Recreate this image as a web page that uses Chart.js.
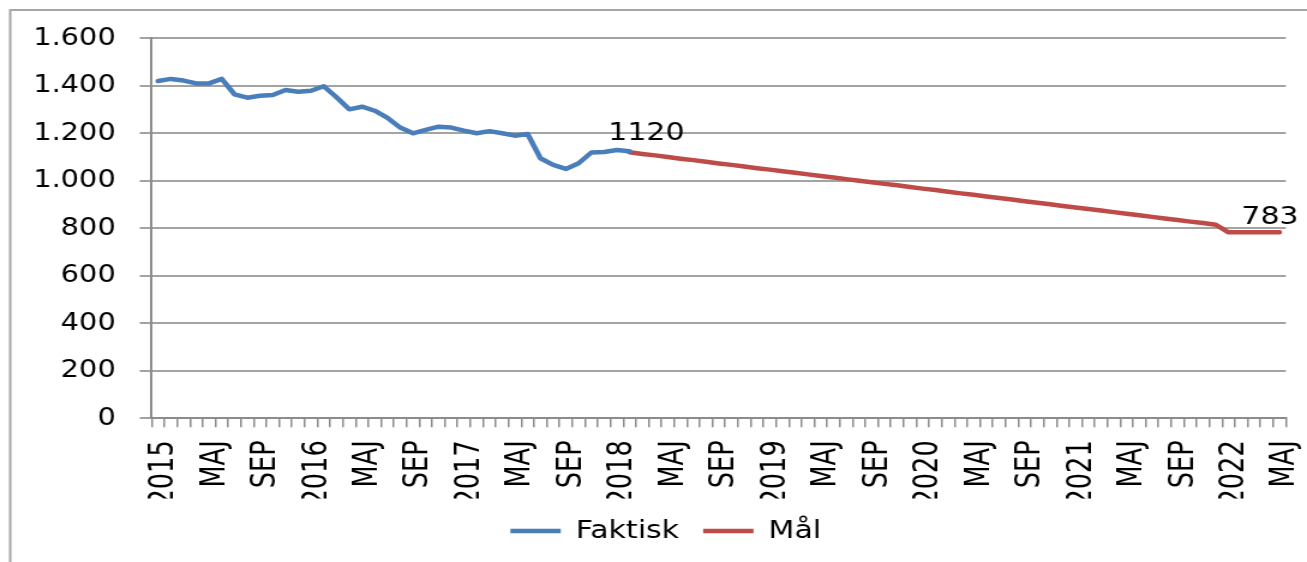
<!DOCTYPE html>
<html>
<head>
<meta charset="utf-8">
<script src="https://cdn.jsdelivr.net/npm/chart.js@4/dist/chart.umd.min.js"></script>
<style>
  html, body { margin: 0; padding: 0; background: #fff; }
</style>
</head>
<body>
<!-- the reference is stretched sideways, so the canvas is drawn narrow and widened by css -->
<canvas id="chart" width="1089" height="562" style="display:block;width:1307px;height:562px"></canvas>
<script>
// chart data
const years = ['2015', '2016', '2017', '2018', '2019', '2020', '2021', '2022'];
const monthNames = ['', 'FEB', 'MAR', 'APR', 'MAJ', 'JUN', 'JUL', 'AUG', 'SEP', 'OKT', 'NOV', 'DEC'];
const lastMonthCount = 89; // jan 2015 .. maj 2022

const faktisk = [
    1420, 1429, 1422, 1410, 1410, 1429, 1364, 1350, 1358, 1361, 1382, 1375,
    1379, 1398, 1352, 1301, 1312, 1295, 1265, 1224, 1200, 1214, 1228, 1224,
    1211, 1200, 1209, 1200, 1190, 1197, 1095, 1067, 1050, 1074, 1119, 1121,
    1130, 1124
];

const maal = [
    1120, 1113, 1107, 1100, 1093, 1087, 1080, 1073, 1067, 1060, 1053,
    1047, 1040, 1034, 1027, 1020, 1014, 1007, 1000, 994, 987, 981,
    974, 967, 961, 954, 947, 941, 934, 928, 921, 914, 908, 901,
    894, 888, 881, 875, 868, 861, 855, 848, 841, 835, 828, 822, 815,
    783, 783, 783, 783, 783
];
const maalStart = 37; // feb 2018

const yTicks = [0, 200, 400, 600, 800, 1000, 1200, 1400, 1600];

// month categories, labelled with the year in january
const labels = [];
for (let i = 0; i < lastMonthCount; i++) {
    const m = i % 12;
    labels.push(m === 0 ? years[i / 12] : monthNames[m]);
}

const faktiskData = labels.map((_, i) => i < faktisk.length ? faktisk[i] : null);
const maalData = labels.map((_, i) => {
    const k = i - maalStart;
    return k >= 0 && k < maal.length ? maal[k] : null;
});

const BLUE = '#4a7ebb';
const RED = '#be4b48';
const GRID = '#a3a3a3';
const AXIS = '#8c8c8c';

// outer frame of the chart object (cut off at right and bottom in the picture)
const framePlugin = {
    id: 'frame',
    beforeDraw(chart) {
        const ctx = chart.ctx;
        ctx.save();
        ctx.strokeStyle = '#a6a6a6';
        ctx.lineWidth = 2;
        ctx.strokeRect(8.5, 10, chart.width + 20, chart.height + 20);
        ctx.restore();
        // legend sits a bit right of the canvas centre in the original
        if (chart.legend) chart.legend.left = 38;
    }
};

// the two value labels at the start and end of the target line
const valueLabelPlugin = {
    id: 'valueLabels',
    afterDatasetsDraw(chart) {
        const ctx = chart.ctx;
        const meta = chart.getDatasetMeta(1);
        const marks = [
            { idx: maalStart, dx: 14, dy: -12 },
            { idx: maalStart + maal.length - 1, dx: -8, dy: -8 }
        ];
        ctx.save();
        ctx.font = '25px "DejaVu Sans"';
        ctx.fillStyle = '#000';
        ctx.textAlign = 'center';
        ctx.textBaseline = 'alphabetic';
        marks.forEach(m => {
            const pt = meta.data[m.idx];
            ctx.fillText(String(maalData[m.idx]), pt.x + m.dx, pt.y + m.dy);
        });
        ctx.restore();
    }
};

const chart = new Chart(document.getElementById('chart'), {
    type: 'line',
    data: {
        labels,
        datasets: [{
            label: 'Faktisk',
            data: faktiskData,
            borderColor: BLUE,
            backgroundColor: BLUE,
            borderWidth: 4.5,
            pointRadius: 0,
            tension: 0,
            borderJoinStyle: 'round',
            borderCapStyle: 'round'
        }, {
            label: 'Mål',
            data: maalData,
            borderColor: RED,
            backgroundColor: RED,
            borderWidth: 4.5,
            pointRadius: 0,
            tension: 0,
            borderJoinStyle: 'round',
            borderCapStyle: 'round'
        }]
    },
    options: {
        responsive: false,
        animation: false,
        devicePixelRatio: 1,
        layout: { padding: { top: 38.3, left: 0, right: 17.6, bottom: 8.5 } },
        plugins: {
            legend: {
                display: true,
                position: 'bottom',
                labels: {
                    color: '#000',
                    font: { family: '"DejaVu Sans"', size: 25 },
                    usePointStyle: true,
                    pointStyle: 'line',
                    pointStyleWidth: 42,
                    padding: 20
                }
            },
            tooltip: { enabled: false }
        },
        scales: {
            x: {
                type: 'category',
                offset: true,
                afterFit: (s) => {
                    s.height = 80.2;
                    s.paddingLeft = 0;
                    s.paddingRight = 0;
                },
                grid: {
                    offset: true,
                    drawOnChartArea: false,
                    drawTicks: true,
                    tickLength: 9,
                    color: AXIS,
                    lineWidth: 1.5
                },
                border: { display: true, color: AXIS, width: 2 },
                ticks: {
                    autoSkip: false,
                    minRotation: 90,
                    maxRotation: 90,
                    padding: 13,
                    labelOffset: 5,
                    color: '#000',
                    font: { family: '"Liberation Sans Narrow", "Arial Narrow", "DejaVu Sans Condensed", sans-serif', size: 28.5 },
                    callback: function (value, index) {
                        return index % 4 === 0 ? this.getLabelForValue(value) : '';
                    }
                }
            },
            y: {
                min: 0,
                max: 1600,
                afterFit: (s) => { s.width = 126.4; },
                afterBuildTicks: (s) => { s.ticks = yTicks.map(v => ({ value: v })); },
                grid: {
                    color: GRID,
                    lineWidth: 2,
                    tickLength: 10,
                    drawTicks: true
                },
                border: { display: true, color: AXIS, width: 2 },
                ticks: {
                    padding: 20,
                    color: '#000',
                    font: { family: '"DejaVu Sans"', size: 24 },
                    callback: (v) => v.toString().replace(/\B(?=(\d{3})+(?!\d))/g, '.')
                }
            }
        }
    },
    plugins: [framePlugin, valueLabelPlugin]
});
chart.canvas.style.width = '1307px';
chart.canvas.style.height = '562px';
</script>
</body>
</html>
